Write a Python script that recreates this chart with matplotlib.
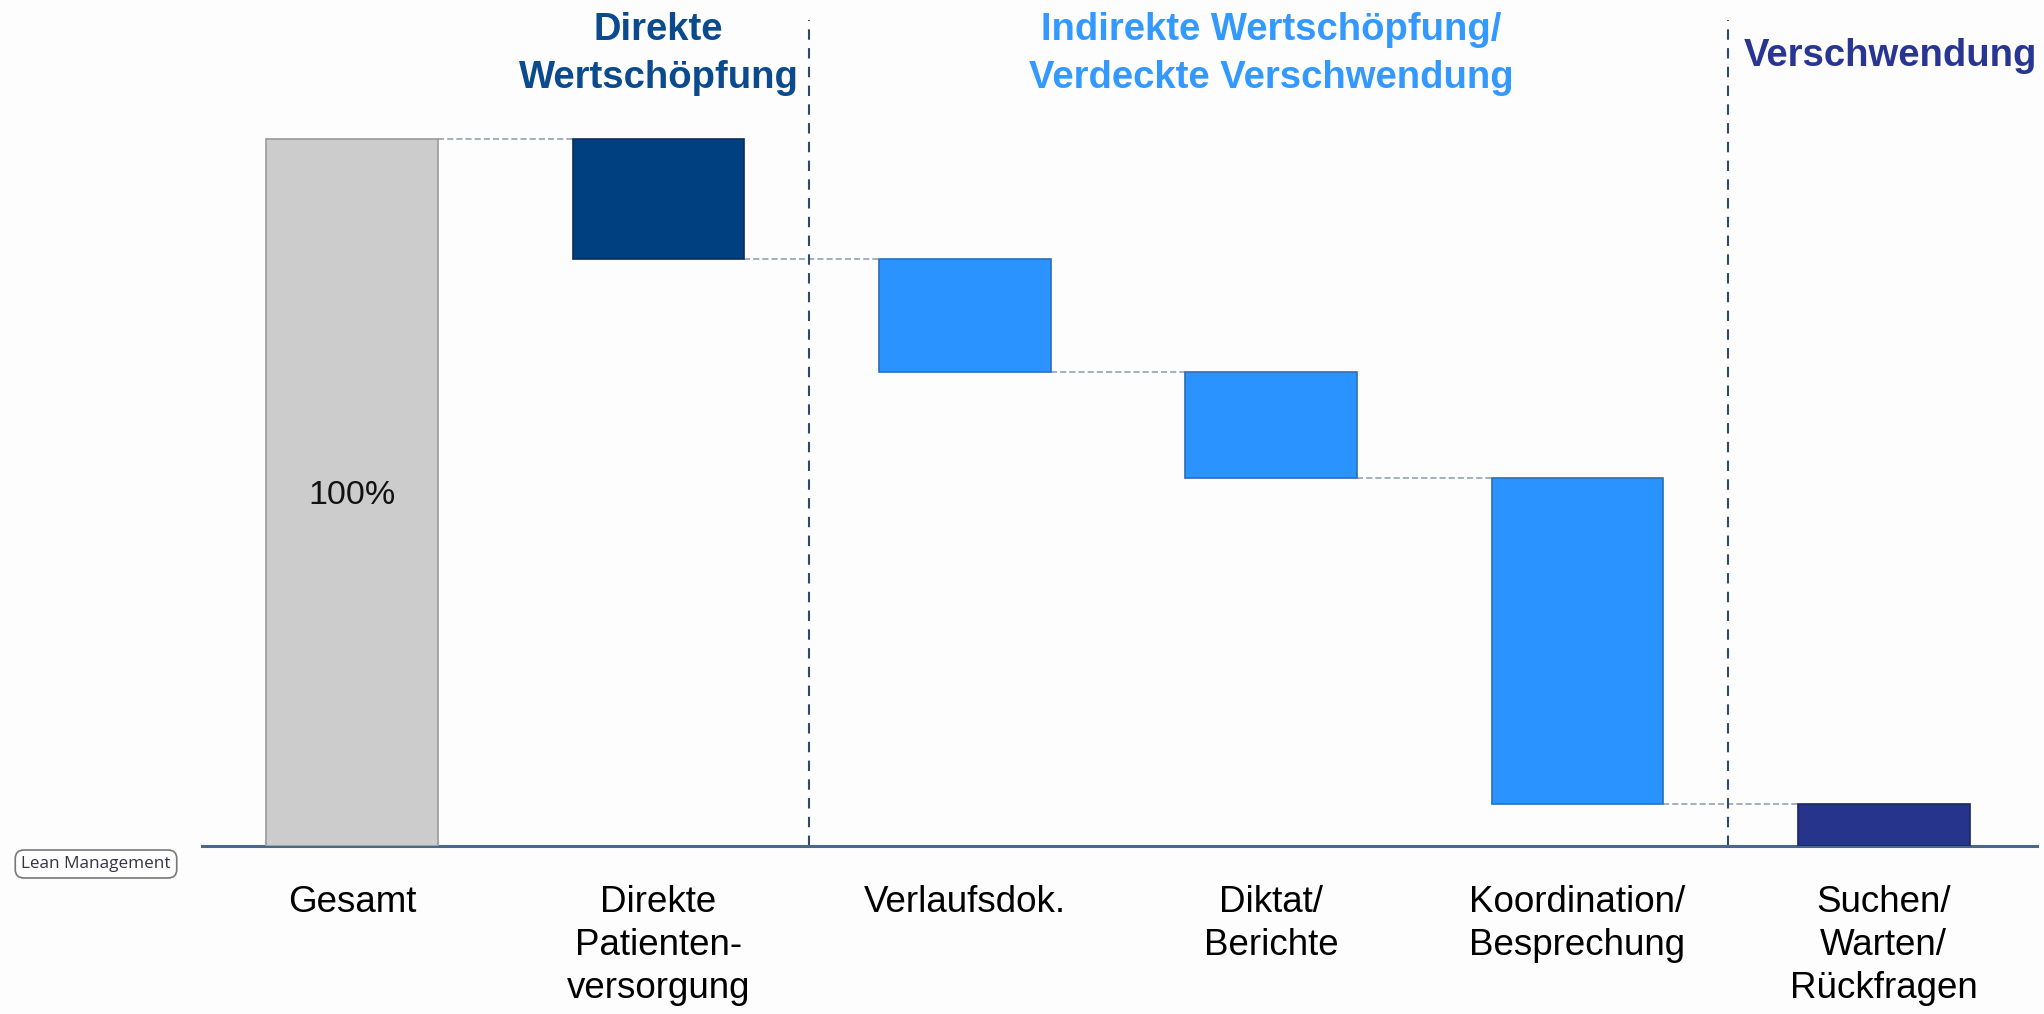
import matplotlib.pyplot as plt
from matplotlib import font_manager as fm
import numpy as np

plt.rcParams['font.family'] = ['Liberation Sans', 'DejaVu Sans']

# condensed face for the category labels if available
try:
    fm.findfont('Liberation Sans Narrow', fallback_to_default=False)
    label_family = ['Liberation Sans Narrow', 'DejaVu Sans']
    label_size = 29
    label_ls = 1.15
except ValueError:
    label_family = ['Liberation Sans', 'DejaVu Sans']
    label_size = 26.5
    label_ls = 1.29

categories = ['Gesamt', 'Direkte\nPatienten-\nversorgung', 'Verlaufsdok.',
              'Diktat/\nBerichte', 'Koordination/\nBesprechung', 'Suchen/\nWarten/\nRückfragen']
shares = [100, 17, 16, 15, 46, 6]
bar_colors = ['#cccccc', '#004080', '#2b93ff', '#2b93ff', '#2b93ff', '#27348b']
edge_colors = ['#9a9a9a', '#0a2f5c', '#2a6fb8', '#2a6fb8', '#2a6fb8', '#1c2566']
groups = ['Direkte\nWertschöpfung', 'Indirekte Wertschöpfung/\nVerdeckte Verschwendung', 'Verschwendung']
group_colors = ['#0b4a8c', '#3399ff', '#283593']
group_x = [1.0, 3.0, 5.02]
group_y = [112.0, 112.0, 111.7]
separators = [1.49, 4.49]

W, H = 2044, 1014
fig = plt.figure(figsize=(W / 100, H / 100), dpi=100)
fig.patch.set_facecolor('#fdfdfd')
ax = fig.add_axes([202 / W, (H - 846) / H, (2037 - 202) / W, (846 - 20) / H])
ax.set_facecolor('#fdfdfd')

x = np.arange(len(categories))
bottoms = [0]
level = shares[0]
for s in shares[1:]:
    level -= s
    bottoms.append(level)
heights = shares
width = 0.56

ax.bar(x, heights, bottom=bottoms, width=width, color=bar_colors,
       edgecolor=edge_colors, linewidth=1.2, zorder=3)

# dashed connectors between the steps
for i in range(len(x) - 1):
    yv = bottoms[i] if i > 0 else heights[0]
    ax.plot([x[i] + width / 2, x[i + 1] - width / 2], [yv, yv],
            linestyle=(0, (4, 2)), color='#8a9ab0', linewidth=1.1, zorder=2)

for sx in separators:
    ax.plot([sx, sx], [0, 116.8], linestyle=(0, (5, 4)), color='#2e4a6b',
            linewidth=1.5, zorder=2)

ax.text(x[0], 49.5, '100%', ha='center', va='center', fontsize=label_size - 2,
        family=label_family, color='#111111', zorder=4)

for gx, gy, gt, gc in zip(group_x, group_y, groups, group_colors):
    ax.text(gx, gy, gt, ha='center', va='center', fontsize=27.5, fontweight='bold',
            color=gc, linespacing=1.4)

ax.set_xlim(-0.49, 5.5)
ax.set_ylim(0, 116.8)
ax.set_xticks(x)
ax.set_xticklabels(categories, fontsize=label_size, family=label_family,
                   linespacing=label_ls, va='top')
ax.tick_params(axis='x', length=0, pad=28)
ax.set_yticks([])
for side in ['top', 'right', 'left']:
    ax.spines[side].set_visible(False)
ax.spines['bottom'].set_color('#4a6888')
ax.spines['bottom'].set_linewidth(2.2)

fig.text(96 / W, 1 - 864 / H, 'Lean Management', ha='center', va='center',
         fontsize=12.3, family=['Open Sans', 'DejaVu Sans'], color='#333344',
         bbox=dict(boxstyle='round,pad=0.35,rounding_size=0.5', facecolor='white',
                   edgecolor='#777777', linewidth=1.2))

fig.savefig('out.png', dpi=100, facecolor=fig.get_facecolor())
